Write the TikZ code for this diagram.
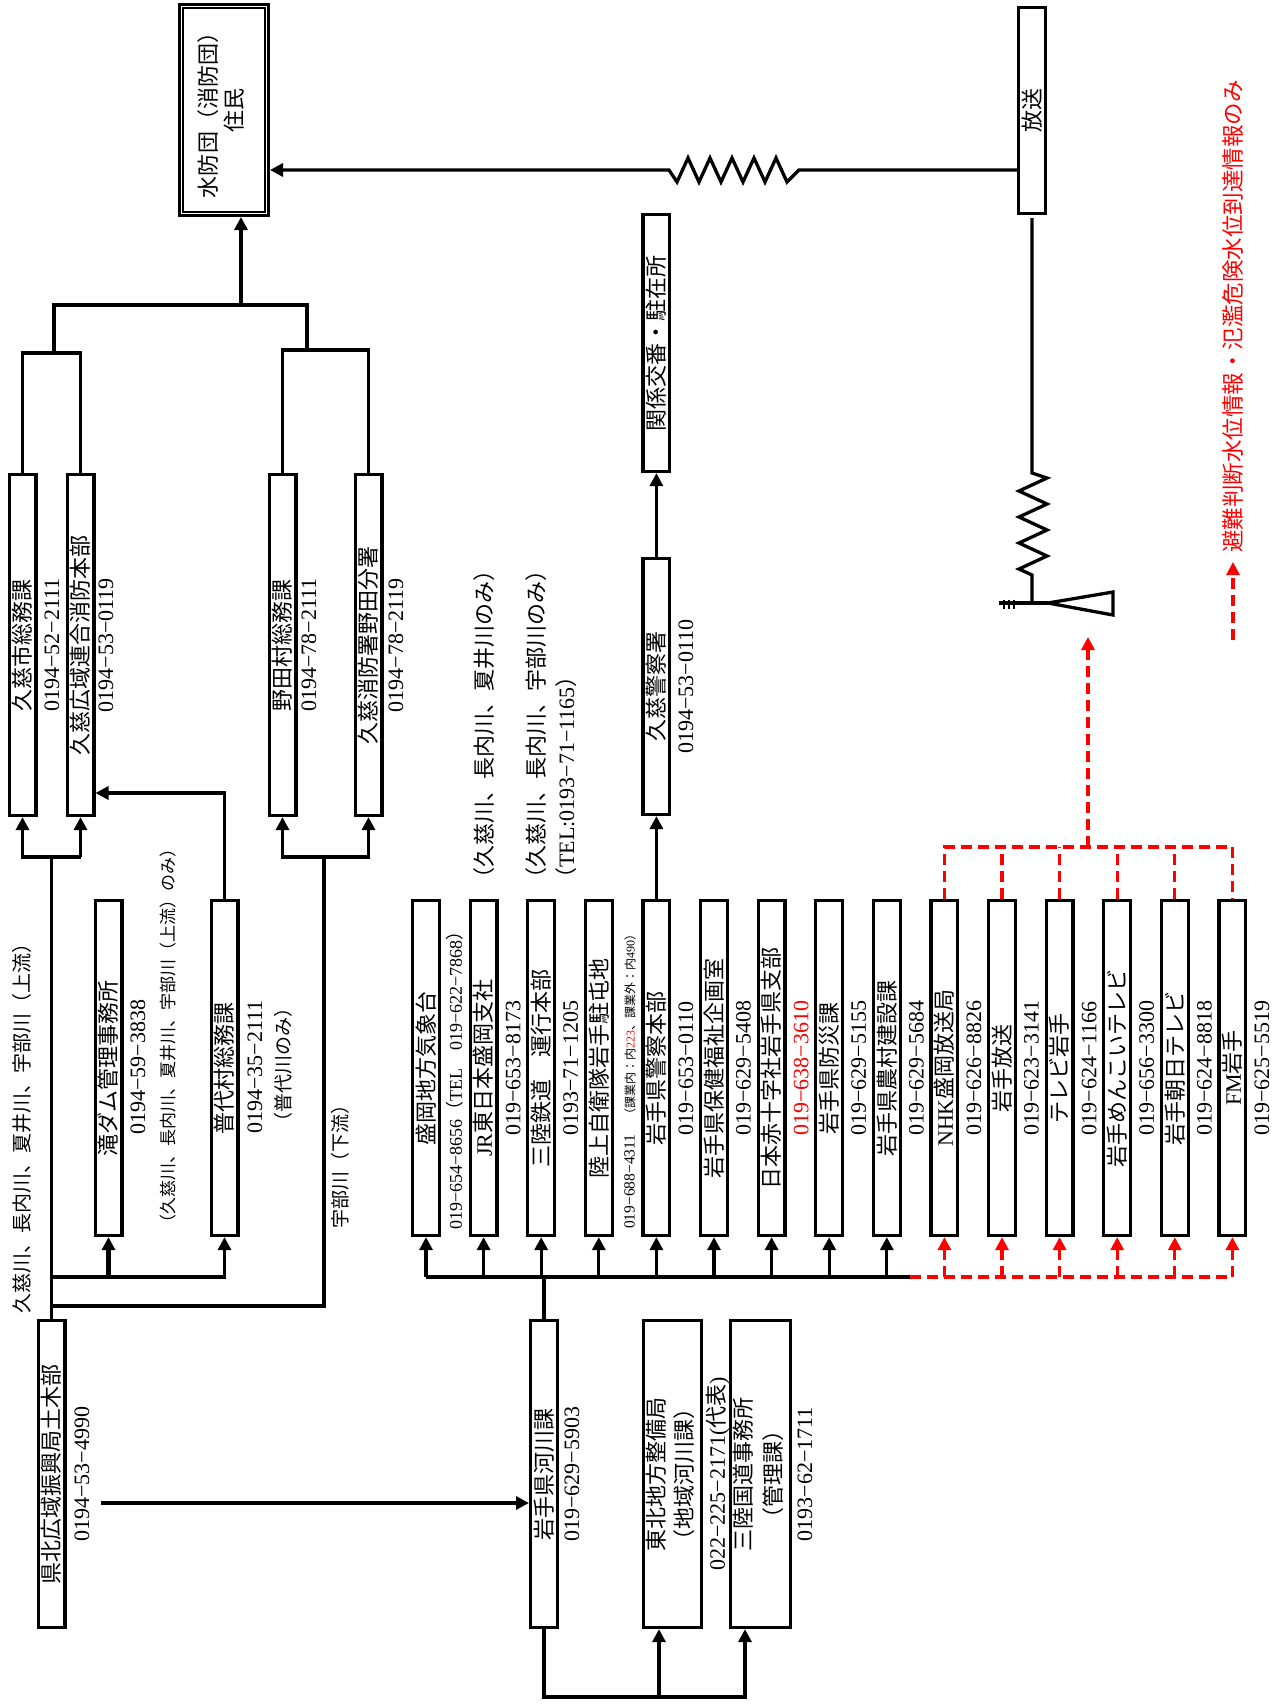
\documentclass[tikz,border=0pt]{standalone}
\usepackage{fontspec}
\usepackage{graphicx}
\setmainfont{Liberation Serif}
\newfontfamily\jp{Noto Sans CJK JP}
\usetikzlibrary{arrows.meta,calc}
\newcommand\J[1]{{\jp #1}}
\newcommand\R[1]{\rotatebox{90}{#1}}
\newcommand\RR[2][c]{\rotatebox{90}{\begin{tabular}{@{}#1@{}}#2\end{tabular}}}
\newcommand\fs[2]{\fontsize{#1}{#2}\selectfont}
\definecolor{rd}{RGB}{255,0,0}
\begin{document}
\begin{tikzpicture}[x=1pt,y=-1pt,
  bx/.style={draw, line width=3.2pt, inner sep=0pt, minimum width=26.8pt, font=\fs{22}{27}},
  tx/.style={inner sep=0pt, font=\fs{22}{27}},
  ln/.style={line width=3.3pt},
  arr/.style={line width=3.3pt, -{Triangle[length=13pt,width=13pt]}},
  rln/.style={line width=3.2pt, draw=rd, dash pattern=on 11pt off 6pt},
  rarr/.style={rln, -{Triangle[length=13pt,width=13pt]}},
]
\useasboundingbox (0,0) rectangle (1285,1707);

% ---------- top ----------
\node[bx, minimum width=88.8pt, minimum height=210.8pt, font=\fs{22}{25}] (suibo) at (224,110) {\RR{\J{水防団（消防団）}\\\J{住民}}};
\draw[line width=2pt] ([shift={(5.3,5.3)}]suibo.north west) rectangle ([shift={(-5.3,-5.3)}]suibo.south east);
\node[bx, minimum height=206pt] (hoso) at (1032,110.5) {\R{\J{放送}}};
\node[bx, minimum height=257pt] (koban) at (656.4,343) {\R{\J{関係交番・駐在所}}};
\node[bx, minimum height=256pt] (kpol) at (656.4,686.5) {\R{\J{久慈警察署}}};
\node[tx] (kpolt) at (686,686.5) {\R{0194−53−0110}};

% ---------- left upper boxes ----------
\node[bx, minimum height=341pt] (kuji1) at (22.5,645) {\R{\J{久慈市総務課}}};
\node[tx] (kuji1t) at (52,645) {\R{0194−52−2111}};
\node[bx, minimum height=341pt] (kuji2) at (80.5,645) {\R{\J{久慈広域連合消防本部}}};
\node[tx] (kuji2t) at (106,645) {\R{0194−53−0119}};
\node[bx, minimum height=341pt] (noda1) at (282.5,645) {\R{\J{野田村総務課}}};
\node[tx] (noda1t) at (309,645) {\R{0194−78−2111}};
\node[bx, minimum height=341pt] (noda2) at (368.5,645) {\R{\J{久慈消防署野田分署}}};
\node[tx] (noda2t) at (396,645) {\R{0194−78−2119}};

\node[tx, anchor=south] (n1) at (484,890) {\R{\J{（久慈川、長内川、夏井川のみ）}}};
\node[tx, anchor=south, font=\fs{22}{30}] (n2) at (553,890) {\RR[l]{\J{（久慈川、長内川、宇部川のみ）}\\\J{（}TEL:0193−71−1165\J{）}}};

% ---------- left lower ----------
\node[tx, font=\fs{20}{24}] (n3) at (22,1123) {\R{\J{久慈川、長内川、夏井川、宇部川（上流）}}};
\node[bx, minimum height=335pt] (taki) at (108.5,1068) {\R{\J{滝ダム管理事務所}}};
\node[tx] (takit) at (138,1067) {\R{0194−59−3838}};
\node[tx, anchor=south, font=\fs{17}{20}] (n4) at (168,1232) {\R{\J{（久慈川、長内川、夏井川、宇部川（上流）のみ）}}};
\node[bx, minimum height=335pt] (fudai) at (224.5,1068) {\R{\J{普代村総務課}}};
\node[tx] (fudait) at (255,1067) {\R{0194−35−2111}};
\node[tx, font=\fs{19}{23}] (n5) at (283,1065) {\R{\J{（普代川のみ）}}};
\node[tx, font=\fs{19}{23}] (n6) at (340,1162) {\R{\J{宇部川（下流）}}};

% ---------- row of 15 boxes ----------
\node[bx, minimum height=335pt] (b0) at (426,1068) {\R{\J{盛岡地方気象台}}};
\node[bx, minimum height=335pt] (b1) at (483.6,1068) {\R{JR\J{東日本盛岡支社}}};
\node[bx, minimum height=335pt] (b2) at (541.2,1068) {\R{\J{三陸鉄道　運行本部}}};
\node[bx, minimum height=335pt] (b3) at (598.8,1068) {\R{\J{陸上自衛隊岩手駐屯地}}};
\node[bx, minimum height=335pt] (b4) at (656.4,1068) {\R{\J{岩手県警察本部}}};
\node[bx, minimum height=335pt] (b5) at (714,1068) {\R{\J{岩手県保健福祉企画室}}};
\node[bx, minimum height=335pt] (b6) at (771.6,1068) {\R{\J{日本赤十字社岩手県支部}}};
\node[bx, minimum height=335pt] (b7) at (829.2,1068) {\R{\J{岩手県防災課}}};
\node[bx, minimum height=335pt] (b8) at (886.8,1068) {\R{\J{岩手県農村建設課}}};
\node[bx, minimum height=335pt] (b9) at (944.4,1068) {\R{NHK\J{盛岡放送局}}};
\node[bx, minimum height=335pt] (b10) at (1002,1068) {\R{\J{岩手放送}}};
\node[bx, minimum height=335pt] (b11) at (1059.6,1068) {\R{\J{テレビ岩手}}};
\node[bx, minimum height=335pt] (b12) at (1117.2,1068) {\R{\J{岩手めんこいテレビ}}};
\node[bx, minimum height=335pt] (b13) at (1174.8,1068) {\R{\J{岩手朝日テレビ}}};
\node[bx, minimum height=335pt] (b14) at (1232.4,1068) {\R{FM\J{岩手}}};

\node[tx, anchor=south, font=\fs{18}{22}] (p0) at (455,1230) {\R{019−654−8656\J{（}TEL\J{　}019−622−7868\J{）}}};
\node[tx] (p1) at (513.1,1068) {\R{019−653−8173}};
\node[tx] (p2) at (570.7,1068) {\R{0193−71−1205}};
\node[tx, anchor=south] (p3) at (630,1229) {\R{\fs{15.5}{18}019−688−4311\hspace{14pt}\fs{12}{14}\J{（課業内：内}\textcolor{rd}{223}\J{、課業外：内}490\J{）}}};
\node[tx] (p4) at (685.9,1068) {\R{019−653−0110}};
\node[tx] (p5) at (743.5,1068) {\R{019−629−5408}};
\node[tx, text=rd] (p6) at (801.1,1068) {\R{019−638−3610}};
\node[tx] (p7) at (858.7,1068) {\R{019−629−5155}};
\node[tx] (p8) at (916.3,1068) {\R{019−629−5684}};
\node[tx] (p9) at (973.9,1068) {\R{019−626−8826}};
\node[tx] (p10) at (1031.5,1068) {\R{019−623−3141}};
\node[tx] (p11) at (1089.1,1068) {\R{019−624−1166}};
\node[tx] (p12) at (1146.7,1068) {\R{019−656−3300}};
\node[tx] (p13) at (1204.3,1068) {\R{019−624−8818}};
\node[tx] (p14) at (1261.9,1068) {\R{019−625−5519}};

% ---------- bottom ----------
\node[bx, minimum height=307pt] (kenpoku) at (51.5,1474) {\R{\J{県北広域振興局土木部}}};
\node[tx] (kenpokut) at (82,1474) {\R{0194−53−4990}};
\node[bx, minimum height=307pt] (kasen) at (544,1474) {\R{\J{岩手県河川課}}};
\node[tx] (kasent) at (572,1474) {\R{019−629−5903}};
\node[bx, minimum width=58pt, minimum height=307pt, font=\fs{22}{28}] (tohoku) at (672.5,1474) {\RR{\J{東北地方整備局}\\\J{（地域河川課）}}};
\node[tx] (tohokut) at (718,1474) {\R{022−225−2171(\J{代表})}};
\node[bx, minimum width=54pt, minimum height=307pt, font=\fs{22}{30}] (sanriku) at (760.5,1474) {\RR{\J{三陸国道事務所}\\\J{（管理課）}}};
\node[tx] (sanrikut) at (805,1474) {\R{0193−62−1711}};

% ---------- legend ----------
\coordinate (lg1) at (1233,640);
\coordinate (lg2) at (1233,562);
\draw[rarr] (lg1) -- (lg2);
\node[tx, anchor=south, text=rd, font=\fs{22.5}{27}] (legend) at (1233,553) {\R{\J{避難判断水位情報・氾濫危険水位到達情報のみ}}};

% ---------- connectors: top ----------
\coordinate (jt) at (241,305);
\coordinate (jl) at (54,305);
\coordinate (jr) at (307,305);
\coordinate (jl2) at (54,353);
\coordinate (jr2) at (307,350);
\draw[arr] (jt) -- (suibo.south -| jt);
\draw[ln] (jl2) -- (jl) -- (jr) -- (jr2);
\draw[ln] (kuji1.north) -- (kuji1.north |- jl2) -- (kuji2.north |- jl2) -- (kuji2.north);
\draw[ln] (noda1.north) -- (noda1.north |- jr2) -- (noda2.north |- jr2) -- (noda2.north);

% broadcast line with zigzag
\coordinate (hz) at (0,170);
\draw[arr] (hoso.west |- hz) -- (799,170) -- (787,182) -- (776,158) -- (765,182) -- (754,158) -- (743,182) -- (732,158) -- (721,182) -- (710,158) -- (699,182) -- (688,158) -- (677,182) -- (669,170) -- (suibo.east |- hz);

% antenna
\coordinate (ant) at (1032,603);
\draw[ln] ([yshift=-3pt]hoso.south) -- (1032,473) -- (1047,478) -- (1019,491) -- (1047,504) -- (1019,517) -- (1047,530) -- (1019,543) -- (1047,556) -- (1019,569) -- (1032,575) -- (ant);
\draw[ln] (999,603) -- (ant) -- (1048,603);
\draw[ln] (1048,603) -- (1113,592) -- (1113,615) -- cycle;
\foreach \x in {1004,1009,1014} \draw[line width=2.5pt] (\x,599.5) -- (\x,608.5);

% ---------- connectors: left ----------
\coordinate (kb) at (0,857);
\coordinate (f1) at (0,793);
\coordinate (bus) at (0,1277);
\coordinate (ub) at (0,1306);
\coordinate (ux) at (324,0);
\draw[arr] (kuji2 |- kb) -- (kuji1 |- kb) -- (kuji1.south);
\draw[arr] (kuji2 |- kb) -- (kuji2.south);
\draw[ln] (kenpoku.north) -- (kenpoku.north |- kb);
\draw[arr] (fudai.north) -- (fudai.north |- f1) -- (kuji2.east |- f1);
\draw[arr] (kenpoku |- bus) -- (fudai |- bus) -- (fudai.south);
\draw[arr, line width=4.5pt] (taki |- bus) -- (taki.south);
\draw[ln] (kenpoku |- ub) -- (ux |- ub) -- (ux |- kb);
\draw[arr] (ux |- kb) -- (noda1 |- kb) -- (noda1.south);
\draw[arr] (ux |- kb) -- (noda2 |- kb) -- (noda2.south);

% ---------- connectors: middle ----------
\coordinate (bx1) at (910,1277);
\draw[ln] (kasen.north) -- (kasen.north |- bus);
\draw[ln] (b0 |- bus) -- (bx1);
\draw[rln] (bx1) -- (b14 |- bus);
\foreach \i in {0,...,8} \draw[arr] (b\i |- bus) -- (b\i.south);
\foreach \i in {9,...,14} \draw[rarr] (b\i |- bus) -- (b\i.south);
\draw[arr] (b4.north) -- (kpol.south);
\draw[arr] (kpol.north) -- (koban.south);

\coordinate (rb) at (0,847);
\coordinate (rtip) at (1088,637);
\draw[rln] (b9.north) -- (b9.north |- rb) -- (b14.north |- rb) -- (b14.north);
\foreach \i in {10,...,13} \draw[rln] (b\i.north) -- (b\i.north |- rb);
\draw[rarr] (rtip |- rb) -- (rtip);

% ---------- connectors: bottom ----------
\coordinate (kb2) at (0,1697);
\coordinate (tx1) at (659,0);
\coordinate (sx1) at (745,0);
\coordinate (a1) at (101,1503);
\draw[arr] (a1) -- (kasen.west |- a1);
\draw[arr] (kasen.south) -- (kasen.south |- kb2) -- (sx1 |- kb2) -- (sanriku.south -| sx1);
\draw[arr] (tx1 |- kb2) -- (tohoku.south -| tx1);
\end{tikzpicture}
\end{document}
